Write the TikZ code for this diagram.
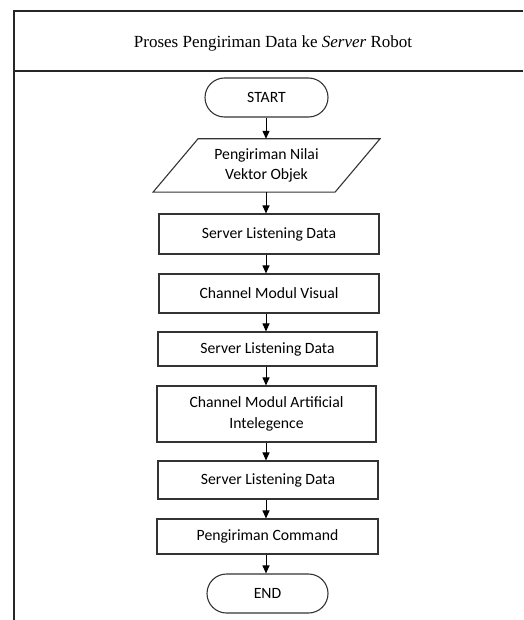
\documentclass[tikz,border=0pt]{standalone}
\usepackage{fontspec}
\setmainfont{Carlito}
\newfontfamily\titlefont{Liberation Serif}
\usetikzlibrary{arrows.meta,calc}
\definecolor{edgegray}{HTML}{333333}
\tikzset{
  boxtext/.style={font=\fontsize{15.7}{20.5}\selectfont, align=center, text=black},
  procbox/.style={boxtext, draw=edgegray, line width=1.1pt, inner sep=0pt},
  termbox/.style={boxtext, draw=edgegray, line width=1.1pt, rounded corners=19.5pt, inner sep=0pt},
  arr/.style={draw=black, line width=1pt, -{Triangle[length=8pt,width=7pt]}},
  frameline/.style={draw=black!85, line width=1.4pt}
}
\begin{document}
\begin{tikzpicture}[x=1pt,y=-1pt]
\useasboundingbox (0,0) rectangle (523,620);
% frame
\coordinate (ftl) at (14,11);
\coordinate (ftr) at (523,11);
\coordinate (fml) at (14,71);
\coordinate (fmr) at (523,71);
\coordinate (fbl) at (14,620);
\draw[frameline] (ftr) -- (ftl) -- (fbl);
\draw[frameline] (fml) -- (fmr);
\node[font=\titlefont\fontsize{17}{20}\selectfont] (title) at (273,43) {Proses Pengiriman Data ke \textit{Server} Robot};
% nodes
\node[termbox, minimum width=123pt, minimum height=39pt] (start) at (266.5,97.5) {START};
\node[boxtext, minimum width=182pt, minimum height=53pt, inner sep=0pt] (para) at (266.5,165.5) {Pengiriman Nilai\\Vektor Objek};
\draw[draw=edgegray, line width=1.1pt] ($(para.north)+(-68.5,0)$) -- ($(para.north)+(113.5,0)$) -- ($(para.south)+(68.5,0)$) -- ($(para.south)+(-113.5,0)$) -- cycle;
\node[procbox, minimum width=220pt, minimum height=40pt] (b1) at (269,234) {Server Listening Data};
\node[procbox, minimum width=220pt, minimum height=39pt] (b2) at (269,293.5) {Channel Modul Visual};
\node[procbox, minimum width=219pt, minimum height=34pt] (b3) at (267.5,349) {Server Listening Data};
\node[procbox, minimum width=219pt, minimum height=56pt] (b4) at (266.5,414) {Channel Modul Artificial\\Intelegence};
\node[procbox, minimum width=220pt, minimum height=38pt] (b5) at (268,480) {Server Listening Data};
\node[procbox, minimum width=221pt, minimum height=35pt] (b6) at (267.5,536.5) {Pengiriman Command};
\node[termbox, minimum width=121pt, minimum height=39pt] (end) at (267.5,593.5) {END};
% connectors
\coordinate (ax) at (266,0);
\draw[arr] (start.south -| ax) -- (para.north -| ax);
\draw[arr] (para.south -| ax) -- (b1.north -| ax);
\draw[arr] (b1.south -| ax) -- (b2.north -| ax);
\draw[arr] (b2.south -| ax) -- (b3.north -| ax);
\draw[arr] (b3.south -| ax) -- (b4.north -| ax);
\draw[arr] (b4.south -| ax) -- (b5.north -| ax);
\draw[arr] (b5.south -| ax) -- (b6.north -| ax);
\draw[arr] (b6.south -| ax) -- (end.north -| ax);
\end{tikzpicture}
\end{document}
